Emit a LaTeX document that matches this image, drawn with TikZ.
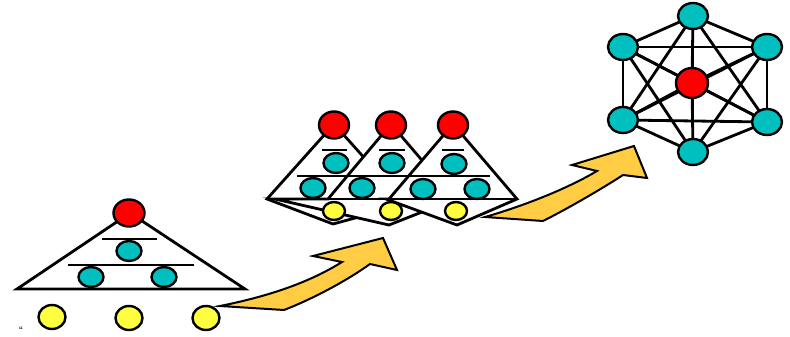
\documentclass[tikz,border=0pt]{standalone}
\usepackage{fontspec}
\setmainfont{Liberation Sans}
\usetikzlibrary{shapes.geometric,backgrounds}
\definecolor{cy}{HTML}{00BFBF}
\definecolor{rd}{HTML}{FF0000}
\definecolor{yl}{HTML}{FFFF40}
\definecolor{gold}{HTML}{FFCC44}
\tikzset{
  ln/.style={line width=2.8pt},
  ball/.style={ellipse, draw, line width=2.4pt, inner sep=0pt},
  redball/.style={ball, fill=rd, minimum width=31pt, minimum height=27pt},
  cyball/.style={ball, fill=cy, minimum width=25pt, minimum height=20pt},
  ylball/.style={ball, fill=yl, minimum width=27pt, minimum height=24pt},
  mredball/.style={ball, fill=rd, minimum width=30pt, minimum height=27pt},
  mcyball/.style={ball, fill=cy, minimum width=25pt, minimum height=20pt},
  mylball/.style={ball, fill=yl, minimum width=22pt, minimum height=18pt},
  tri/.style={ln, fill=white, line join=miter},
  arr/.style={fill=gold, draw, line width=2pt, line join=miter},
  gnode/.style={ball, fill=cy, minimum width=30pt, minimum height=26pt},
  gcenter/.style={ball, fill=rd, minimum width=32pt, minimum height=30pt},
  edge/.style={line width=2.8pt}
}
\begin{document}
\begin{tikzpicture}[x=1pt,y=-1pt]
\useasboundingbox (0,0) rectangle (790,337);

% ---------- left pyramid ----------
\draw[tri] (17,289) -- (130,213) -- (245,289) -- cycle;
\draw[ln] (102,239) -- (157,239);
\draw[ln] (68,265) -- (194,265);
\node[redball] (lr) at (129,213) {};
\node[cyball] (lc1) at (129,251) {};
\node[cyball] (lc2) at (91,277) {};
\node[cyball] (lc3) at (164,277) {};
\node[ylball] (ly1) at (52,317) {};
\node[ylball] (ly2) at (129,318) {};
\node[ylball] (ly3) at (206,318) {};

% ---------- middle: three overlapping kites ----------
\draw[tri] (267,199) -- (334,124) -- (401,199) -- (425,199) -- (333,224) -- cycle;
\draw[tri] (328,199) -- (391,124) -- (455,199) -- (389,225) -- (275,199) -- cycle;
\draw[tri] (389,199) -- (453,124) -- (517,199) -- (457,225) -- (386,199) -- cycle;
\draw[ln] (267,199) -- (517,199);
\draw[ln] (297,176) -- (490,176);
\draw[ln] (322,150) -- (347,150);
\draw[ln] (379,150) -- (405,150);
\draw[ln] (442,150) -- (464,150);
\node[mredball] (mr1) at (334,125) {};
\node[mredball] (mr2) at (391,125) {};
\node[mredball] (mr3) at (453,125) {};
\node[mcyball] (mc1) at (336,163) {};
\node[mcyball] (mc2) at (392,163) {};
\node[mcyball] (mc3) at (454,164) {};
\node[mcyball] (md1) at (313,188) {};
\node[mcyball] (md2) at (362,188) {};
\node[mcyball] (md3) at (423,189) {};
\node[mcyball] (md4) at (477,189) {};
\node[mylball] (my1) at (334,211) {};
\node[mylball] (my2) at (391,211) {};
\node[mylball] (my3) at (456,211) {};

% ---------- arrows ----------
\draw[arr] (220,306) .. controls (270,296) and (310,282) .. (342,262)
  -- (313,256) -- (383,238) -- (397,270) -- (370,264)
  .. controls (345,282) and (310,300) .. (284,310) -- cycle;
\draw[arr] (485,217) .. controls (520,207) and (565,190) .. (597,171)
  -- (572,165) -- (634,146) -- (647,178) -- (623,175)
  .. controls (600,190) and (565,210) .. (543,221) -- cycle;

% ---------- right: complete graph ----------
\node[gnode] (gt) at (693,16) {};
\node[gnode] (gul) at (623,47) {};
\node[gnode] (gur) at (767,47) {};
\node[gnode] (gll) at (623,120) {};
\node[gnode] (glr) at (767,122) {};
\node[gnode] (gb) at (693,152) {};
\node[gcenter] (gc) at (692,83) {};
\begin{scope}[on background layer]
  \foreach \a/\b in {gt/gul,gt/gur,gt/gll,gt/glr,gt/gb,gt/gc,
                     gul/gur,gul/gll,gul/glr,gul/gb,gul/gc,
                     gur/gll,gur/glr,gur/gb,gur/gc,
                     gll/glr,gll/gb,gll/gc,
                     glr/gb,glr/gc,gb/gc}
    \draw[edge] (\a.center) -- (\b.center);
\end{scope}

% ---------- text fragment at the bottom edge ----------
\node[font=\fontsize{11}{11}\selectfont, anchor=north, inner sep=0pt] (frag) at (21,327) {“};
\end{tikzpicture}
\end{document}
